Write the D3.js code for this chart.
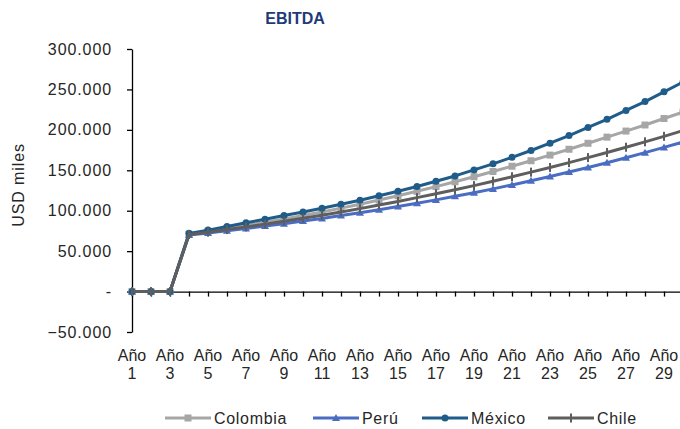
<!DOCTYPE html>
<html>
<head>
<meta charset="utf-8">
<script src="https://cdn.jsdelivr.net/npm/d3@7/dist/d3.min.js"></script>
<style>
  html, body { margin: 0; padding: 0; background: #fff; }
  svg { display: block; font-family: "Liberation Sans", Arial, sans-serif; }
</style>
</head>
<body>
<svg id="chart" width="680" height="429"></svg>
<script>
// Years of the projection
const years = d3.range(1, 31);
const yearLabels = years.map(y => "Año " + y);

// EBITDA by country, USD miles
const colombia = [0, 0, 0, 71000, 74500, 78000, 81800, 85700, 89800, 94000, 98500, 103200, 108100, 113200, 118500, 124000, 129800, 135800, 142000, 148500, 155000, 161800, 168800, 176000, 183400, 191000, 198500, 206000, 214000, 222000];
const peru     = [0, 0, 0, 70000, 72500, 75200, 78000, 81000, 84000, 87200, 90500, 94000, 97600, 101300, 105200, 109200, 113400, 117800, 122300, 127000, 131900, 137000, 142300, 147800, 153500, 159400, 165500, 171800, 178300, 185000];
const mexico   = [0, 0, 0, 72000, 76000, 80500, 85000, 89500, 94000, 98500, 103000, 108000, 113000, 118500, 124000, 130000, 136500, 143000, 150500, 158000, 166000, 174500, 183500, 193000, 203000, 213000, 224000, 235000, 247000, 259000];
const chile    = [0, 0, 0, 70500, 73500, 76700, 80000, 83400, 87000, 90700, 94500, 98500, 102600, 107000, 111500, 116200, 121000, 126000, 131000, 136500, 142000, 147700, 153500, 159500, 165700, 172000, 178500, 185200, 192000, 199000];

const yTicks = [-50000, 0, 50000, 100000, 150000, 200000, 250000, 300000];

const seriesNames = ["Colombia", "Perú", "México", "Chile"];
const seriesValues = [colombia, peru, mexico, chile];
const seriesColors = ["#a6a6a6", "#4a6dc2", "#1f5c8a", "#5e5e5e"];
const seriesMarkers = ["square", "triangle", "circle", "bar"];

const svg = d3.select("#chart");
const textColor = "#262626";

const x = d3.scalePoint().domain(years).range([132, 683]);
const y = d3.scaleLinear().domain([-50000, 300000]).range([332, 49]);

const esLocale = d3.formatLocale({ decimal: ",", thousands: ".", grouping: [3], currency: ["$", ""] });
const fmt = esLocale.format(",.0f");
const tickFmt = v => v === 0 ? "-" : fmt(v);

// Title
svg.append("text")
  .attr("x", 295).attr("y", 24)
  .attr("text-anchor", "middle")
  .attr("font-size", 16).attr("font-weight", "bold")
  .attr("fill", "#1f3a78")
  .text("EBITDA");

// Y axis title
svg.append("text")
  .attr("transform", "translate(24,185) rotate(-90)")
  .attr("text-anchor", "middle")
  .attr("font-size", 16).attr("letter-spacing", 0.9)
  .attr("fill", textColor)
  .text("USD miles");

// Y axis
const yAxis = svg.append("g")
  .attr("transform", "translate(132,0)")
  .call(d3.axisLeft(y).tickValues(yTicks).tickFormat(tickFmt).tickSize(5).tickSizeOuter(0).tickPadding(15));
yAxis.select(".domain").attr("stroke", "#000").attr("stroke-width", 1.3);
yAxis.selectAll(".tick line").attr("stroke", "#000").attr("stroke-width", 1.3);
yAxis.selectAll(".tick text").attr("font-size", 16).attr("letter-spacing", 0.9)
  .attr("fill", textColor).attr("font-family", "Liberation Sans, Arial, sans-serif");

// X axis along zero
const xAxis = svg.append("g")
  .attr("transform", `translate(0,${y(0)})`)
  .call(d3.axisBottom(x).tickSize(5).tickSizeOuter(0).tickFormat(""));
xAxis.select(".domain").attr("stroke", "#000").attr("stroke-width", 1.3);
xAxis.selectAll(".tick line").attr("stroke", "#000").attr("stroke-width", 1.3);

// Category labels on two lines, every other year
const labelYears = years.filter(v => v % 2 === 1);
const lbl = svg.append("g").selectAll("text").data(labelYears).join("text")
  .attr("x", d => x(d))
  .attr("text-anchor", "middle")
  .attr("font-size", 16)
  .attr("fill", textColor);
lbl.append("tspan").attr("x", d => x(d)).attr("y", 361).text(d => yearLabels[d - 1].split(" ")[0]);
lbl.append("tspan").attr("x", d => x(d)).attr("y", 379).text(d => yearLabels[d - 1].split(" ")[1]);

// Marker drawing
function drawMarker(g, type, color) {
  if (type === "square") {
    g.append("rect").attr("x", -3.5).attr("y", -3.5).attr("width", 7).attr("height", 7).attr("fill", color);
  } else if (type === "triangle") {
    g.append("path").attr("d", "M0,-4L4,3L-4,3Z").attr("fill", color);
  } else if (type === "circle") {
    g.append("circle").attr("r", 3.5).attr("fill", color);
  } else if (type === "bar") {
    g.append("rect").attr("x", -1).attr("y", -4.5).attr("width", 2).attr("height", 9).attr("fill", color);
  }
}

const line = d3.line().x((d, i) => x(years[i])).y(d => y(d));
const plot = svg.append("g");
seriesValues.forEach((vals, si) => {
  const g = plot.append("g");
  g.append("path").datum(vals)
    .attr("d", line)
    .attr("fill", "none")
    .attr("stroke", seriesColors[si])
    .attr("stroke-width", 3)
    .attr("stroke-linejoin", "round");
  vals.forEach((v, i) => {
    const m = g.append("g").attr("transform", `translate(${x(years[i])},${y(v)})`);
    drawMarker(m, seriesMarkers[si], seriesColors[si]);
  });
});

// Legend
const legendX = [165, 313, 422, 548];
const legend = svg.append("g").attr("transform", "translate(0,418)");
seriesNames.forEach((name, i) => {
  const g = legend.append("g").attr("transform", `translate(${legendX[i]},0)`);
  g.append("line").attr("x1", 0).attr("x2", 46).attr("y1", 0).attr("y2", 0)
    .attr("stroke", seriesColors[i]).attr("stroke-width", 3);
  const m = g.append("g").attr("transform", "translate(23,0)");
  drawMarker(m, seriesMarkers[i], seriesColors[i]);
  g.append("text").attr("x", 49).attr("y", 6)
    .attr("font-size", 16).attr("letter-spacing", 0.7)
    .attr("fill", textColor).text(name);
});
</script>
</body>
</html>
